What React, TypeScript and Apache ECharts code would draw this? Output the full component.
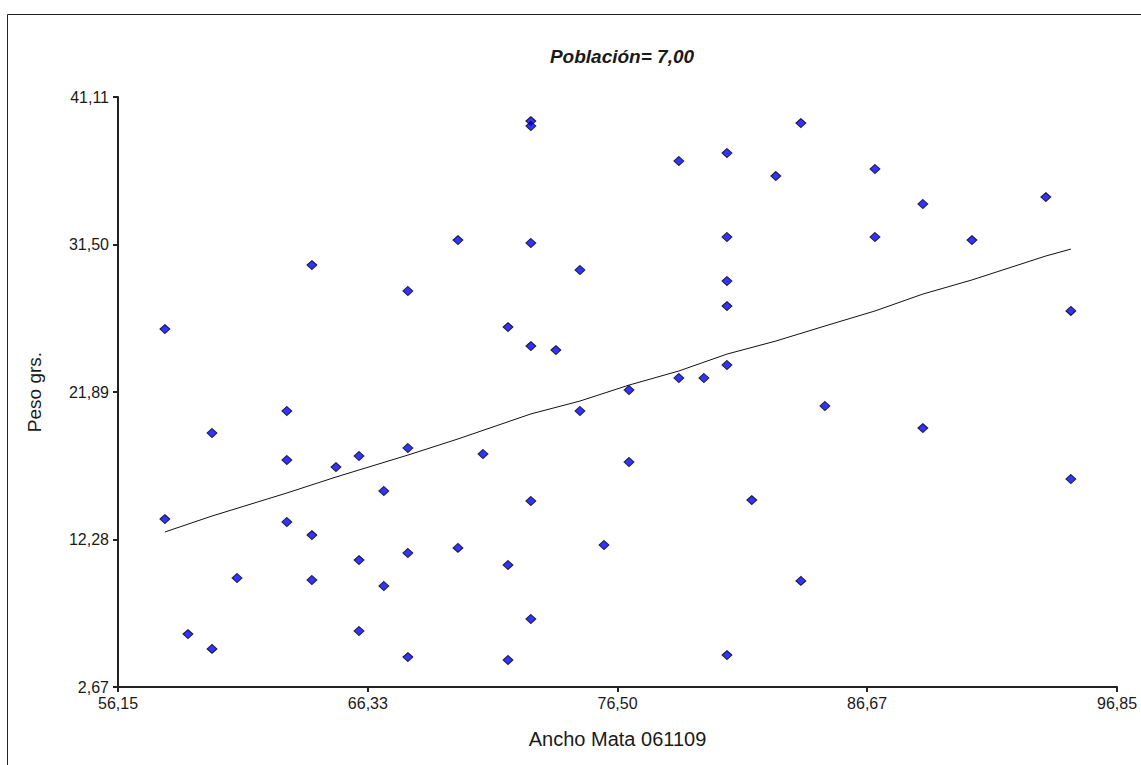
import React, { useEffect, useRef } from "react";
import * as echarts from "echarts";

const xTicks = [56.15, 66.33, 76.5, 86.67, 96.85];
const yTicks = [2.67, 12.28, 21.89, 31.5, 41.11];

const pointsX = [
  58.06, 58.06, 59.0, 59.98, 59.98, 61.0, 63.03, 63.03, 63.03, 64.05, 64.05, 64.05,
  65.03, 65.97, 65.97, 65.97, 66.98, 66.98, 67.96, 67.96, 67.96, 67.96, 70.0, 70.0,
  71.02, 72.04, 72.04, 72.04, 72.97, 72.97, 72.97, 72.97, 72.97, 72.97, 73.99, 74.97,
  74.97, 75.95, 76.97, 76.97, 79.0, 79.0, 80.02, 80.96, 80.96, 80.96, 80.96, 80.96,
  80.96, 81.97, 82.95, 83.97, 83.97, 84.95, 86.99, 86.99, 88.94, 88.94, 90.94, 93.95,
  94.97, 94.97,
];
const pointsY = [
  25.99, 13.61, 6.12, 19.22, 5.15, 9.77, 20.65, 17.46, 13.42, 30.16, 12.57, 9.64,
  17.0, 17.72, 10.94, 6.32, 15.44, 9.25, 28.47, 18.24, 11.4, 4.62, 31.79, 11.73,
  17.85, 26.12, 10.62, 4.43, 39.54, 39.22, 31.6, 24.88, 14.79, 7.1, 24.62, 29.84,
  20.65, 11.92, 22.02, 17.33, 36.94, 22.8, 22.8, 37.46, 31.99, 29.12, 27.49, 23.65,
  4.75, 14.85, 35.96, 39.41, 9.58, 20.98, 36.42, 31.99, 34.14, 19.54, 31.79, 34.59,
  27.17, 16.22,
];

const trendX = [
  58.06, 59.98, 63.03, 65.03, 67.96, 70.0, 72.97, 74.97, 76.97, 79.0, 80.96, 82.95,
  84.95, 86.99, 88.94, 90.94, 93.95, 94.97,
];
const trendY = [
  12.77, 13.81, 15.31, 16.35, 17.78, 18.83, 20.46, 21.3, 22.34, 23.26, 24.36, 25.21,
  26.19, 27.17, 28.27, 29.19, 30.75, 31.2,
];

const fmt = (v: number) => v.toFixed(2).replace(".", ",");
const FONT = "Liberation Sans, Arial, sans-serif";
const TXT = "#1a1a1a";

export default function App() {
  const ref = useRef<HTMLDivElement>(null);
  useEffect(() => {
    if (!ref.current) return;
    const chart = echarts.init(ref.current, null, { renderer: "svg" });
    const scatterData = pointsX.map((x, i) => [x, pointsY[i]]);
    const trendData = trendX.map((x, i) => [x, trendY[i]]);
    chart.setOption({
      animation: false,
      backgroundColor: "#ffffff",
      textStyle: { fontFamily: FONT },
      title: {
        text: "Población= 7,00",
        left: 617,
        top: 42,
        textAlign: "center",
        textStyle: {
          fontFamily: FONT,
          fontSize: 19,
          fontStyle: "italic",
          fontWeight: "bold",
          color: TXT,
        },
      },
      graphic: [
        {
          type: "rect",
          shape: { x: 7.5, y: 14.5, width: 1150, height: 770 },
          style: { fill: "none", stroke: "#222", lineWidth: 1 },
          silent: true,
        },
      ],
      grid: { left: 118, right: 24, top: 97, bottom: 78 },
      xAxis: {
        type: "value",
        min: 56.15,
        max: 96.85,
        name: "Ancho Mata 061109",
        nameLocation: "middle",
        nameGap: 42,
        nameTextStyle: { fontFamily: FONT, fontSize: 20, color: TXT },
        axisLine: { show: true, lineStyle: { color: "#222", width: 2 } },
        axisTick: {
          show: true,
          length: 5,
          customValues: xTicks,
          lineStyle: { color: "#222", width: 2 },
        },
        axisLabel: {
          customValues: xTicks,
          formatter: (v: number) => fmt(v),
          fontFamily: FONT,
          fontSize: 16,
          color: TXT,
          margin: 8,
        },
        splitLine: { show: false },
      },
      yAxis: {
        type: "value",
        min: 2.67,
        max: 41.11,
        name: "Peso grs.",
        nameLocation: "middle",
        nameGap: 74,
        nameTextStyle: { fontFamily: FONT, fontSize: 19, color: TXT },
        axisLine: { show: true, lineStyle: { color: "#222", width: 2 } },
        axisTick: {
          show: true,
          length: 5,
          customValues: yTicks,
          lineStyle: { color: "#222", width: 2 },
        },
        axisLabel: {
          customValues: yTicks,
          formatter: (v: number) => fmt(v),
          fontFamily: FONT,
          fontSize: 16,
          color: TXT,
          margin: 9,
        },
        splitLine: { show: false },
      },
      series: [
        {
          type: "line",
          data: trendData,
          showSymbol: false,
          symbol: "none",
          lineStyle: { color: "#111", width: 1 },
          z: 2,
        },
        {
          type: "scatter",
          data: scatterData,
          symbol: "diamond",
          symbolSize: [10, 9],
          itemStyle: { color: "#0000ff", borderColor: "#000", borderWidth: 1 },
          z: 3,
        },
      ],
    });
    return () => chart.dispose();
  }, []);
  return (
    <div
      ref={ref}
      style={{ position: "fixed", left: 0, top: 0, width: 1141, height: 765 }}
    />
  );
}
